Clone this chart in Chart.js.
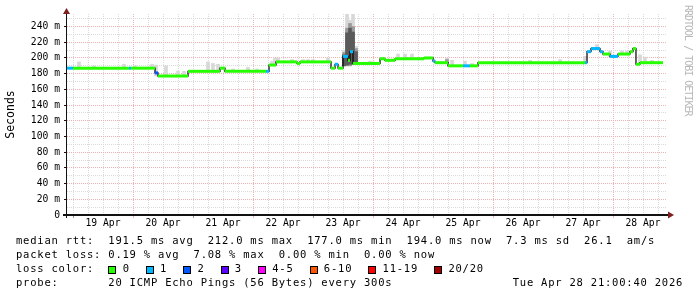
<!DOCTYPE html>
<html>
<head>
<meta charset="utf-8">
<script src="https://cdn.jsdelivr.net/npm/chart.js@4.4.1/dist/chart.umd.min.js"></script>
<style>
  html, body { margin: 0; padding: 0; background: #fff; }
  #wrap { position: relative; width: 697px; height: 297px; overflow: hidden; background: #fff; }
  #chart { position: absolute; left: 0; top: 0; }
  .mono { font-family: 'DejaVu Sans Mono', monospace; color: #000; }
  #legend { position: absolute; left: 16px; top: 234.4px; font-size: 10.5px; letter-spacing: 0.78px; line-height: 13.9px; white-space: pre; }
  #legend .box { display: inline-block; width: 6px; height: 6px; border: 1px solid #000; margin-right: 6.3px; vertical-align: -1.3px; }
  #legend .item { margin-left: 16px; }
  #legend .item:first-child { margin-left: 0; }
  #stamp { position: absolute; left: 512.7px; top: 276.2px; font-size: 10.5px; letter-spacing: 0.78px; line-height: 13.9px; white-space: pre; }
  #credit { position: absolute; left: 684px; top: 5px; writing-mode: vertical-rl; font-size: 10px; letter-spacing: -1px; line-height: 8px; color: #b8b8b8; white-space: pre; }
</style>
</head>
<body>
<div id="wrap">
  <canvas id="chart" width="697" height="297"></canvas>
  <div id="legend" class="mono"><div>median rtt:  191.5 ms avg  212.0 ms max  177.0 ms min  194.0 ms now  7.3 ms sd  26.1  am/s</div><div>packet loss: 0.19 % avg  7.08 % max  0.00 % min  0.00 % now</div><div id="losscolors">loss color:  </div><div>probe:       20 ICMP Echo Pings (56 Bytes) every 300s</div></div>
  <div id="stamp" class="mono">Tue Apr 28 21:00:40 2026</div>
  <div id="credit" class="mono">RRDTOOL / TOBI OETIKER</div>
</div>
<script>
// time values are days of April (18.9 = Apr 18 21:36)
const dayLabels = ['19 Apr', '20 Apr', '21 Apr', '22 Apr', '23 Apr', '24 Apr', '25 Apr', '26 Apr', '27 Apr', '28 Apr'];
const yLabels = ['0', '20 m', '40 m', '60 m', '80 m', '100 m', '120 m', '140 m', '160 m', '180 m', '200 m', '220 m', '240 m'];

const lossColors = ['#26ff00', '#00b8ff', '#0059ff', '#5e00ff', '#ff00ff', '#ff5500', '#ff0000', '#a00000'];
const lossLabels = ['0', '1', '2', '3', '4-5', '6-10', '11-19', '20/20'];

// median rtt (ms), one value per step, with loss bucket
const stepTime = [18.900, 19.000, 19.933, 19.967, 20.367, 20.417, 20.917, 21.450, 21.533, 22.217,
  22.267, 22.383, 22.733, 22.783, 23.300, 23.367, 23.417, 23.500, 23.583, 23.617,
  23.667, 24.117, 24.200, 24.367, 24.850, 25.000, 25.033, 25.250, 25.500, 25.617,
  25.750, 27.533, 27.567, 27.633, 27.783, 27.833, 27.950, 28.083, 28.283, 28.333,
  28.383, 28.450];
const stepMedian = [187, 187, 187, 187, 181, 177, 183, 187, 183, 183,
  191, 195, 193, 195, 187, 192, 187, 202, 197, 208,
  193, 199, 197, 199, 200, 196, 194, 190, 190, 190,
  194, 194, 208, 212, 208, 205, 202, 205, 208, 212,
  192, 194];
const stepLoss = [1, 0, 1, 0, 2, 0, 0, 0, 0, 1,
  0, 0, 0, 0, 0, 1, 0, 1, 0, 1,
  0, 0, 0, 0, 0, 1, 0, 0, 1, 0,
  0, 1, 1, 1, 1, 0, 1, 0, 0, 0,
  0, 0];
const endTime = 28.833;

// smoke (ping spread), outer / middle / inner bands
const smokeLightT = [19.100, 19.350, 19.850, 20.033, 20.317, 20.383, 20.550, 20.750, 20.850, 21.250,
  21.333, 21.417, 21.667, 21.917, 22.067, 22.317, 22.367, 22.417, 22.650, 22.833,
  22.917, 23.000, 23.250, 23.517, 23.567, 23.617, 23.667, 23.717, 23.950, 24.000,
  24.417, 24.533, 24.650, 25.233, 25.317, 25.533, 25.650, 26.617, 27.117, 27.533,
  27.733, 27.950, 28.150, 28.233, 28.450, 28.533, 28.650];
const smokeLightLo = [187, 187, 187, 187, 187, 177, 177, 177, 177, 183,
  183, 183, 183, 183, 183, 191, 191, 195, 195, 195,
  195, 195, 195, 190, 190, 190, 192, 193, 193, 193,
  199, 199, 199, 194, 190, 190, 190, 194, 194, 194,
  212, 202, 205, 205, 194, 194, 194];
const smokeLightHi = [195, 190, 192, 190, 192, 191, 190, 183, 183, 195,
  193, 192, 186, 188, 186, 196, 200, 200, 198, 198,
  198, 198, 200, 210, 256, 248, 256, 215, 196, 195,
  205, 205, 205, 200, 197, 196, 193, 197, 198, 202,
  217, 209, 209, 209, 204, 201, 197];

const smokeMidT = [23.517, 23.567, 23.617, 23.667, 23.717, 25.233];
const smokeMidLo = [190, 190, 190, 192, 193, 194];
const smokeMidHi = [207, 238, 244, 240, 212, 198];

const smokeDarkT = [23.517, 23.567, 23.617, 23.667, 23.717];
const smokeDarkLo = [190, 191, 192, 192, 193];
const smokeDarkHi = [204, 232, 238, 233, 208];

const gridCol = '#dadada';
const mgridCol = '#eeb2b2';
const axisCol = '#111111';
const arrowCol = '#7f1f1f';

// loss colour legend
const lc = document.getElementById('losscolors');
lossLabels.forEach((lab, i) => {
  const s = document.createElement('span');
  s.className = 'item';
  const b = document.createElement('span');
  b.className = 'box';
  b.style.background = lossColors[i];
  s.appendChild(b);
  s.appendChild(document.createTextNode(lab));
  lc.appendChild(s);
});

const isWhole = v => Math.abs(v - Math.round(v)) < 1e-6;
const isNoon = v => Math.abs(v - Math.floor(v) - 0.5) < 1e-6;

const blackSteps = stepTime.map((t, i) => ({ x: t, y: stepMedian[i] }));
blackSteps.push({ x: endTime, y: stepMedian[stepMedian.length - 1] });

const colorSteps = [];
stepTime.forEach((t, i) => {
  const next = i + 1 < stepTime.length ? stepTime[i + 1] : endTime;
  colorSteps.push({ x: t, y: stepMedian[i] }, { x: next, y: stepMedian[i] }, { x: next, y: null });
});

const smokeSet = (label, ts, lo, hi, color, order) => ({
  type: 'bar',
  label: label,
  data: ts.map((t, i) => ({ x: t, y: [lo[i], hi[i]] })),
  backgroundColor: color,
  borderWidth: 0,
  barThickness: 3,
  grouped: false,
  order: order
});

const arrows = {
  id: 'arrows',
  afterDraw(chart) {
    const { ctx, chartArea: a } = chart;
    ctx.save();
    ctx.strokeStyle = axisCol;
    ctx.lineWidth = 2;
    ctx.beginPath();
    ctx.moveTo(a.left - 4, a.bottom);
    ctx.lineTo(a.right + 2, a.bottom);
    ctx.stroke();
    ctx.lineWidth = 1;
    ctx.beginPath();
    ctx.moveTo(a.left - 0.5, a.bottom + 3);
    ctx.lineTo(a.left - 0.5, a.top - 3);
    ctx.stroke();
    ctx.fillStyle = arrowCol;
    ctx.beginPath();
    ctx.moveTo(a.right + 7, a.bottom);
    ctx.lineTo(a.right + 1, a.bottom - 3.5);
    ctx.lineTo(a.right + 1, a.bottom + 3.5);
    ctx.closePath();
    ctx.fill();
    ctx.beginPath();
    ctx.moveTo(a.left - 0.5, a.top - 6);
    ctx.lineTo(a.left - 4, a.top);
    ctx.lineTo(a.left + 3, a.top);
    ctx.closePath();
    ctx.fill();
    ctx.restore();
  }
};

Chart.defaults.font.family = "'DejaVu Sans Mono', monospace";
Chart.defaults.color = '#000';

new Chart(document.getElementById('chart'), {
  type: 'bar',
  data: {
    datasets: [
      {
        type: 'line',
        label: 'median loss colour',
        data: colorSteps,
        borderColor: lossColors[0],
        borderWidth: 3,
        borderCapStyle: 'butt',
        pointRadius: 0,
        spanGaps: false,
        segment: {
          borderColor: c => lossColors[stepLoss[Math.floor(c.p0DataIndex / 3)]]
        },
        order: 0
      },
      {
        type: 'line',
        label: 'median',
        data: blackSteps,
        borderColor: '#000',
        borderWidth: 1.2,
        pointRadius: 0,
        stepped: 'before',
        order: 1
      },
      smokeSet('smoke inner', smokeDarkT, smokeDarkLo, smokeDarkHi, '#5a5a5a', 2),
      smokeSet('smoke middle', smokeMidT, smokeMidLo, smokeMidHi, '#9a9a9a', 3),
      smokeSet('smoke outer', smokeLightT, smokeLightLo, smokeLightHi, '#d8d8d8', 4)
    ]
  },
  options: {
    responsive: false,
    animation: false,
    devicePixelRatio: 1,
    layout: { padding: { left: 0, right: 30, top: 14, bottom: 0 } },
    plugins: { legend: { display: false }, tooltip: { enabled: false } },
    scales: {
      x: {
        type: 'linear',
        min: 18.9,
        max: 28.9,
        offset: false,
        afterBuildTicks: s => {
          const t = [];
          for (let k = 0; k < 40; k++) t.push({ value: 19 + k * 0.25 });
          s.ticks = t;
        },
        afterFit: s => { s.height = 82; },
        ticks: {
          autoSkip: false,
          maxRotation: 0,
          minRotation: 0,
          padding: 0,
          font: { size: 9.7 },
          callback: v => isNoon(v) ? dayLabels[Math.floor(v) - 19] : ''
        },
        grid: {
          offset: false,
          tickLength: 3,
          color: c => {
            const v = c.tick ? c.tick.value : 0;
            return isWhole(v) && Math.round(v) % 2 === 0 ? mgridCol : gridCol;
          },
          tickColor: c => {
            const v = c.tick ? c.tick.value : 0.5;
            if (!isWhole(v)) return 'rgba(0,0,0,0)';
            return Math.round(v) % 2 === 0 ? mgridCol : '#999';
          }
        },
        border: { display: false, dash: [1, 1] }
      },
      y: {
        min: 0,
        max: 256,
        afterBuildTicks: s => {
          const t = [];
          for (let k = 0; k <= 25; k++) t.push({ value: k * 10 });
          s.ticks = t;
        },
        afterFit: s => { s.width = 67; },
        ticks: {
          autoSkip: false,
          padding: 4,
          font: { size: 9.7 },
          callback: v => v % 20 === 0 ? yLabels[v / 20] : ''
        },
        grid: {
          tickLength: 3,
          color: c => {
            const v = c.tick ? c.tick.value : 0;
            return v % 20 === 0 ? mgridCol : gridCol;
          },
          tickColor: c => (c.tick && c.tick.value % 20 === 0) ? axisCol : 'rgba(0,0,0,0)'
        },
        border: { display: false, dash: [1, 1] },
        title: {
          display: true,
          text: 'Seconds',
          font: { size: 11.5 },
          padding: { top: 4, bottom: 0 }
        }
      }
    }
  },
  plugins: [arrows]
});
</script>
</body>
</html>
